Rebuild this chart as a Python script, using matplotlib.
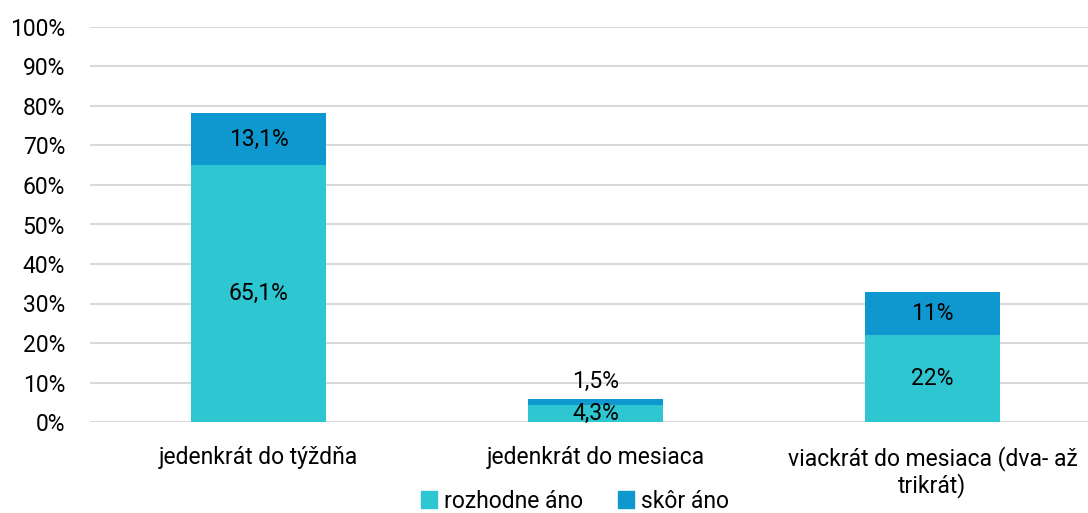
import matplotlib.pyplot as plt
from matplotlib.patches import Patch

plt.rcParams['font.family'] = ['Roboto', 'DejaVu Sans']

categories = ["jedenkrát do týždňa", "jedenkrát do mesiaca", "viackrát do mesiaca (dva- až\ntrikrát)"]
rozhodne = [65.1, 4.3, 22]
skor = [13.1, 1.5, 11]
rozhodne_labels = ["65,1%", "4,3%", "22%"]
skor_labels = ["13,1%", "1,5%", "11%"]

c_light = "#2EC6D1"
c_dark = "#0E98CF"
fs = 16.5

fig = plt.figure(figsize=(10.88, 5.13), dpi=100)
ax = fig.add_axes([90 / 1088, 91 / 513, 998 / 1088, 395 / 513])

x = list(range(len(categories)))
ax.bar(x, rozhodne, width=0.4, color=c_light, zorder=2)
ax.bar(x, skor, width=0.4, bottom=rozhodne, color=c_dark, zorder=2)

for i in x:
    ax.text(i, rozhodne[i] / 2, rozhodne_labels[i], ha='center', va='center', fontsize=fs, zorder=3)
    if skor[i] < 5:
        ax.text(i, rozhodne[i] + skor[i] + 4.5, skor_labels[i], ha='center', va='center', fontsize=fs, zorder=3)
    else:
        ax.text(i, rozhodne[i] + skor[i] / 2, skor_labels[i], ha='center', va='center', fontsize=fs, zorder=3)

ax.set_xlim(-0.5, -0.5 + 998 / 337)
ax.set_ylim(0, 100)
ax.set_yticks(range(0, 101, 10))
ax.set_yticklabels([f"{v}%" for v in range(0, 101, 10)], fontsize=fs)
ax.set_xticks(x)
ax.set_xticklabels(categories, fontsize=fs, linespacing=1.15, va='top')
ax.tick_params(axis='y', length=0, pad=18)
ax.tick_params(axis='x', length=0, pad=17)
ax.grid(axis='y', color='#D9D9D9', linewidth=1.5, zorder=0)
for s in ax.spines.values():
    s.set_visible(False)

handles = [Patch(color=c_light, label="rozhodne áno"), Patch(color=c_dark, label="skôr áno")]
fig.legend(handles=handles, loc='center', bbox_to_anchor=(575 / 1088, 1 - 501 / 513), ncol=2,
           frameon=False, fontsize=fs, handlelength=0.7, handleheight=0.7, handletextpad=0.3, columnspacing=1.5)

fig.savefig("out.png", dpi=100)
